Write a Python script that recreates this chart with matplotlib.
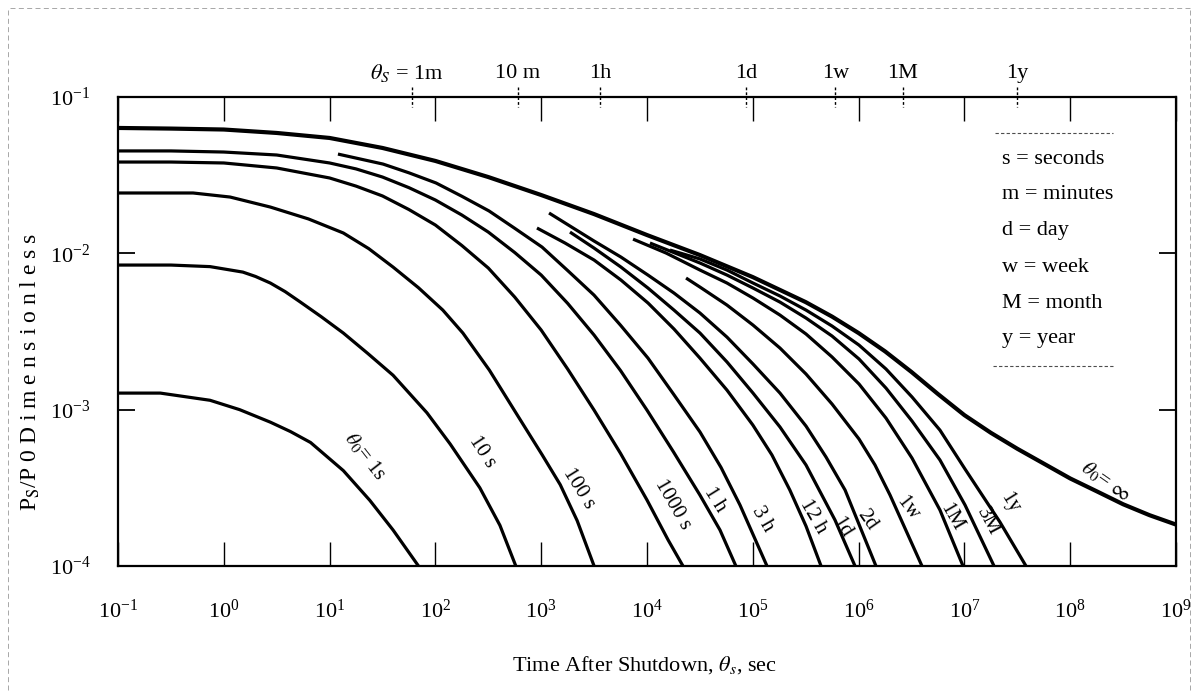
import matplotlib
matplotlib.use("Agg")
import matplotlib.pyplot as plt
from matplotlib.lines import Line2D
from matplotlib.ticker import NullLocator
import numpy as np

plt.rcParams["font.family"] = ["Liberation Serif", "DejaVu Serif"]
plt.rcParams["mathtext.fontset"] = "stix"

# values: log10(time after shutdown, s), log10(Ps/P0)
logt_inf = [-1, -0.5, 0, 0.5, 1, 1.5, 2, 2.5, 3, 3.5, 4, 4.5, 5, 5.5, 5.75, 6, 6.25, 6.5, 6.75,
            7, 7.25, 7.5, 7.75, 8, 8.25, 8.5, 8.75, 9]
logp_inf = [-1.198, -1.202, -1.208, -1.230, -1.262, -1.326, -1.409, -1.512, -1.627, -1.749,
            -1.883, -2.011, -2.152, -2.312, -2.405, -2.510, -2.627, -2.759, -2.900,
            -3.035, -3.148, -3.250, -3.345, -3.440, -3.522, -3.605, -3.675, -3.735]

logt_1s = [-1, -0.6, -0.13, 0.15, 0.44, 0.63, 0.82, 1.13, 1.38, 1.6, 1.84]
logp_1s = [-2.894, -2.894, -2.94, -3.0, -3.08, -3.14, -3.21, -3.39, -3.58, -3.77, -4.0]

logt_10s = [-1, -0.5, -0.13, 0.18, 0.3, 0.44, 0.58, 0.72, 0.92, 1.13, 1.36, 1.6, 1.92, 2.14,
            2.42, 2.61, 2.76]
logp_10s = [-2.075, -2.075, -2.085, -2.12, -2.148, -2.19, -2.245, -2.31, -2.405, -2.51, -2.64,
            -2.78, -3.02, -3.22, -3.50, -3.74, -4.0]

logt_100s = [-1, -0.29, 0.06, 0.44, 0.8, 1.13, 1.37, 1.6, 1.84, 2.07, 2.26, 2.51, 2.77, 3.01,
             3.18, 3.34, 3.50]
logp_100s = [-1.614, -1.614, -1.640, -1.704, -1.78, -1.870, -1.97, -2.088, -2.22, -2.363,
             -2.51, -2.747, -3.03, -3.29, -3.48, -3.71, -4.0]

logt_1000s = [-1, -0.5, 0, 0.5, 1, 1.25, 1.5, 1.75, 2, 2.25, 2.5, 2.75, 3, 3.25, 3.5, 3.75, 4,
              4.2, 4.34]
logp_1000s = [-1.416, -1.416, -1.422, -1.454, -1.518, -1.57, -1.633, -1.72, -1.819, -1.95,
              -2.094, -2.28, -2.491, -2.74, -3.003, -3.28, -3.578, -3.834, -4.0]

logt_1h = [-1, -0.5, 0, 0.5, 1, 1.25, 1.5, 1.75, 2, 2.25, 2.5, 2.75, 3, 3.25, 3.5, 3.75, 4,
           4.25, 4.5, 4.69, 4.84]
logp_1h = [-1.345, -1.345, -1.352, -1.371, -1.422, -1.46, -1.512, -1.58, -1.659, -1.755,
           -1.864, -1.995, -2.139, -2.32, -2.523, -2.75, -3.003, -3.27, -3.546, -3.77, -4.0]

logt_3h = [1.079, 1.505, 1.75, 2.006, 2.25, 2.507, 2.75, 3.008, 3.25, 3.499, 3.75, 4.009,
           4.25, 4.501, 4.7, 4.879, 5.134]
logp_3h = [-1.365, -1.429, -1.485, -1.550, -1.635, -1.729, -1.84, -1.960, -2.11, -2.267,
           -2.46, -2.670, -2.90, -3.143, -3.37, -3.610, -4.0]

logt_12h = [2.96, 3.225, 3.50, 3.754, 4.01, 4.255, 4.50, 4.756, 5.00, 5.181, 5.35, 5.503, 5.645]
logp_12h = [-1.838, -1.934, -2.043, -2.171, -2.318, -2.484, -2.670, -2.875, -3.098, -3.29,
            -3.514, -3.745, -4.0]

logt_1d = [3.272, 3.499, 3.754, 4.009, 4.255, 4.501, 4.756, 5.002, 5.257, 5.503, 5.777, 5.966]
logp_1d = [-1.864, -1.966, -2.088, -2.222, -2.363, -2.510, -2.695, -2.894, -3.111, -3.354,
           -3.706, -4.0]

logt_2d = [3.074, 3.499, 3.754, 4.009, 4.255, 4.501, 4.756, 5.002, 5.257, 5.503, 5.692, 5.872, 6.164]
logp_2d = [-1.742, -1.921, -2.024, -2.139, -2.254, -2.382, -2.536, -2.708, -2.894, -3.105,
           -3.303, -3.514, -4.0]

logt_1w = [4.369, 4.501, 4.756, 5.002, 5.257, 5.503, 5.749, 6.004, 6.155, 6.297, 6.599]
logp_1w = [-2.158, -2.216, -2.331, -2.459, -2.606, -2.772, -2.964, -3.188, -3.354, -3.546, -4.0]

logt_1M = [3.868, 4.180, 4.501, 4.756, 5.002, 5.257, 5.503, 5.749, 6.004, 6.259, 6.505, 6.769, 6.987]
logp_1M = [-1.909, -1.998, -2.107, -2.190, -2.286, -2.395, -2.516, -2.663, -2.836, -3.054,
           -3.310, -3.642, -4.0]

logt_3M = [4.028, 4.501, 4.756, 5.002, 5.257, 5.503, 5.749, 6.004, 6.259, 6.505, 6.769, 7.006, 7.280]
logp_3M = [-1.934, -2.062, -2.139, -2.222, -2.312, -2.414, -2.529, -2.676, -2.862, -3.073,
           -3.322, -3.610, -4.0]

logt_1y = [4.217, 4.501, 4.756, 5.002, 5.257, 5.503, 5.749, 6.004, 6.259, 6.505, 6.769, 7.006,
           7.336, 7.582]
logp_1y = [-1.979, -2.036, -2.107, -2.190, -2.273, -2.363, -2.465, -2.587, -2.740, -2.919,
           -3.131, -3.380, -3.719, -4.0]

curve_labels = ["$\\theta_0$= 1s", "10 s", "100 s", "1000 s", "1 h", "3 h", "12 h",
                "1d", "2d", "1w", "1M", "3M", "1y", "$\\theta_0$= $\\infty$"]

# secondary time marks along the top axis (seconds)
top_tick_values = [60, 600, 3600, 86400, 604800, 2629800, 31557600]
top_tick_labels = ["$\\theta_S$ = 1m", "10 m", "1h", "1d", "1w", "1M", "1y"]

legend_lines = ["s = seconds", "m = minutes", "d = day", "w = week", "M = month", "y = year"]

W, H = 1202, 694


def fxy(px, py):
    return px / W, 1 - py / H


fig = plt.figure(figsize=(W / 100, H / 100), dpi=100)
ax = fig.add_axes([118 / W, 1 - 566 / H, (1176 - 118) / W, (566 - 97) / H])

series = [(logt_1s, logp_1s), (logt_10s, logp_10s), (logt_100s, logp_100s),
          (logt_1000s, logp_1000s), (logt_1h, logp_1h), (logt_3h, logp_3h),
          (logt_12h, logp_12h), (logt_1d, logp_1d), (logt_2d, logp_2d),
          (logt_1w, logp_1w), (logt_1M, logp_1M), (logt_3M, logp_3M),
          (logt_1y, logp_1y), (logt_inf, logp_inf)]

for i, (lt, lp) in enumerate(series):
    lw = 3.0 if i == len(series) - 1 else 2.3
    ax.plot(10.0 ** np.array(lt), 10.0 ** np.array(lp), color="black", lw=lw,
            solid_capstyle="butt", solid_joinstyle="round")

ax.set_xscale("log")
ax.set_yscale("log")
ax.set_xlim(1e-1, 1e9)
ax.set_ylim(1e-4, 1e-1)
ax.set_xticks([10.0 ** k for k in range(-1, 10)])
ax.set_yticks([10.0 ** k for k in range(-4, 0)])
ax.xaxis.set_minor_locator(NullLocator())
ax.yaxis.set_minor_locator(NullLocator())
ax.tick_params(axis="x", direction="in", length=17, width=1.0, top=True, bottom=True,
               pad=24, labelsize=16)
ax.tick_params(axis="y", direction="in", length=12, width=1.3, left=True, right=True,
               pad=20, labelsize=16)
for s in ax.spines.values():
    s.set_linewidth(1.6)

# top axis time marks
xt = ax.get_xaxis_transform()
for v, lbl in zip(top_tick_values, top_tick_labels):
    ax.plot([v, v], [1.021, 0.978], transform=xt, color="black", lw=1.0,
            ls=(0, (2, 1.5)), clip_on=False)
    dx = -4 if lbl.startswith("$") else 0
    ax.annotate(lbl, xy=(v, 1), xycoords=xt, xytext=(dx, 17), textcoords="offset points",
                ha="center", va="center", fontsize=16)

# curve labels
label_pos = [(365, 456, -52), (482, 452, -57), (579, 488, -58), (673, 505, -60),
             (715, 500, -58), (762, 519, -60), (813, 517, -60), (842, 527, -58),
             (867, 520, -55), (908, 508, -52), (951, 517, -60), (988, 522, -62),
             (1010, 503, -58), (1105, 482, -35)]
for lbl, (px, py, rot) in zip(curve_labels, label_pos):
    fig.text(*fxy(px, py), lbl, rotation=rot, ha="center", va="center", fontsize=15,
             rotation_mode="anchor")

# unit key
for k, txt in enumerate(legend_lines):
    fig.text(*fxy(1002, 159 + 36 * k), txt, ha="left", va="center", fontsize=16)
for (x0, x1, y) in [(995, 1113, 133), (993, 1115, 366)]:
    fig.add_artist(Line2D([x0 / W, x1 / W], [1 - y / H, 1 - y / H], transform=fig.transFigure,
                          color="0.3", lw=0.8, ls=(0, (3, 2))))

fig.text(*fxy(30, 372), "P$_{\\rm S}$/P 0 D i m e n s i o n l e s s", rotation=90,
         ha="center", va="center", fontsize=17)
fig.text(*fxy(645, 665), "Time After Shutdown, $\\theta_s$, sec", ha="center", va="center",
         fontsize=16)

# faint scan border
for (x0, y0, x1, y1) in [(10, 8, 1190, 8), (8, 10, 8, 690), (1190, 10, 1190, 690)]:
    fig.add_artist(Line2D([x0 / W, x1 / W], [1 - y0 / H, 1 - y1 / H], transform=fig.transFigure,
                          color="0.6", lw=0.6, ls=(0, (6, 4))))

fig.savefig("out.png", dpi=100)
